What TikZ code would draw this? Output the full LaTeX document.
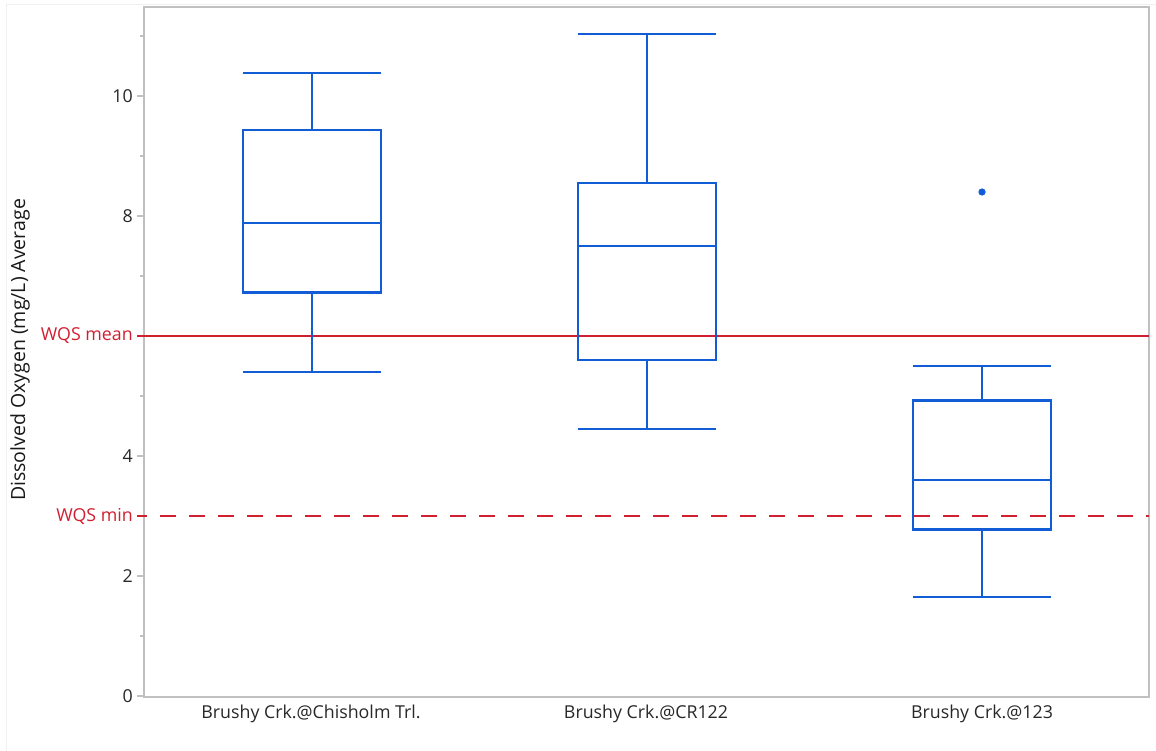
\documentclass[tikz,border=0pt]{standalone}
\usepackage{fontspec}
\setmainfont{Open Sans}
\definecolor{boxblue}{RGB}{18,92,214}
\definecolor{wqsred}{RGB}{208,32,48}
\definecolor{framegray}{RGB}{192,192,192}
\definecolor{txtgray}{RGB}{40,40,40}
\begin{document}
\begin{tikzpicture}[x=1pt,y=-1pt,
  boxline/.style={draw=boxblue,line width=2.6pt},
  ticklab/.style={anchor=east,text=txtgray,font=\fontsize{17.8}{20}\selectfont,inner sep=0pt},
  redlab/.style={anchor=east,text=wqsred,font=\fontsize{17.8}{20}\selectfont,inner sep=0pt},
  catlab/.style={anchor=center,text=txtgray,font=\fontsize{17.8}{20}\selectfont,inner sep=0pt},
  refline/.style={draw=wqsred,line width=2.2pt}]
\useasboundingbox (0,0) rectangle (1156,751);
\fill[white] (0,0) rectangle (1156,751);
\draw[draw=black!6,line width=1pt] (6,5) rectangle (1156,751);
% plot frame
\draw[framegray,line width=1.8pt] (144,7) rectangle (1149,697);
\begin{scope}[shift={(0,696)},y=60pt]
  % ticks
  \foreach \v in {0,2,4,8,10} {\draw[framegray,line width=1.2pt] (137,\v) -- (144,\v);}
  \foreach \v in {1,5,7,9,11} {\draw[framegray,line width=1.2pt] (140,\v) -- (144,\v);}
  \node[ticklab] (t0) at (133,0) {0};
  \node[ticklab] (t2) at (133,2) {2};
  \node[ticklab] (t4) at (133,4) {4};
  \node[ticklab] (t8) at (133,8) {8};
  \node[ticklab] (t10) at (133,10) {10};
  \node[redlab] (lmean) at (133,6) {WQS mean};
  \node[redlab] (lmin) at (133,3) {WQS min};
  % reference lines
  \draw[refline] (137,6) -- (1149,6);
  \draw[refline,dash pattern=on 16pt off 13pt,dash phase=6pt] (137,3) -- (1149,3);
  % box 1: Chisholm
  \draw[boxline] (243,10.38) -- (381,10.38);
  \draw[boxline] (312,10.38) -- (312,9.43);
  \draw[boxline] (243,9.43) rectangle (381,6.73);
  \draw[boxline] (243,7.88) -- (381,7.88);
  \draw[boxline] (312,6.73) -- (312,5.4);
  \draw[boxline] (243,5.4) -- (381,5.4);
  % box 2: CR122
  \draw[boxline] (578,11.03) -- (716,11.03);
  \draw[boxline] (647,11.03) -- (647,8.55);
  \draw[boxline] (578,8.55) rectangle (716,5.6);
  \draw[boxline] (578,7.5) -- (716,7.5);
  \draw[boxline] (647,5.6) -- (647,4.45);
  \draw[boxline] (578,4.45) -- (716,4.45);
  % box 3: 123
  \draw[boxline] (913,5.5) -- (1051,5.5);
  \draw[boxline] (982,5.5) -- (982,4.93);
  \draw[boxline] (913,4.93) rectangle (1051,2.78);
  \draw[boxline] (913,3.6) -- (1051,3.6);
  \draw[boxline] (982,2.78) -- (982,1.65);
  \draw[boxline] (913,1.65) -- (1051,1.65);
  \fill[boxblue] (982,8.4) circle (3.6pt);
\end{scope}
% category labels
\node[catlab] (c1) at (311,714) {Brushy Crk.@Chisholm Trl.};
\node[catlab] (c2) at (646,714) {Brushy Crk.@CR122};
\node[catlab] (c3) at (982,714) {Brushy Crk.@123};
% axis title
\node[catlab,rotate=90,text=black!90,font=\fontsize{19.5}{22}\selectfont] (ytitle) at (20,350) {Dissolved Oxygen (mg/L) Average};
\end{tikzpicture}
\end{document}
